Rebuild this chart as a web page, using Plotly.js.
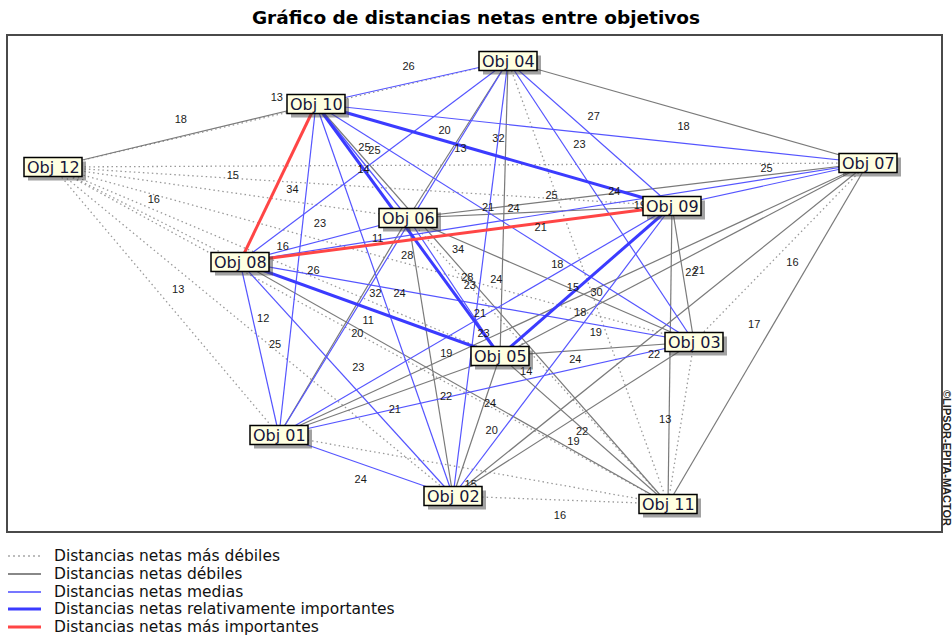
<!DOCTYPE html>
<html><head><meta charset="utf-8">
<script src="https://cdn.plot.ly/plotly-3.0.1.min.js"></script>
<style>html,body{margin:0;padding:0;background:#fff;}#chart{width:952px;height:642px;}</style>
</head><body><div id="chart"></div>
<script>
// Node layout (map coordinates)
const nodeNames = ['Obj 01','Obj 02','Obj 03','Obj 04','Obj 05','Obj 06','Obj 07','Obj 08','Obj 09','Obj 10','Obj 11','Obj 12'];
const nodeX = [279, 453, 694, 508, 500, 408, 868, 240, 672, 316, 668, 53];
const nodeY = [435, 496, 342, 61, 356, 218, 163, 262, 206, 104, 504, 167];

// Edges (objective numbers) and net distance values
const edgeFrom = [12,12,12,12,12,12,12,12,12,12,12, 11,11,11,11,11,11,11,11,11,11, 10,10,10,10,10,10,10,10,10, 9,9,9,9,9,9,9,9, 8,8,8,8,8,8,8, 7,7,7,7,7,7, 6,6,6,6,6, 5,5,5,5, 4,4,4, 3,3, 2];
const edgeTo   = [1,2,3,4,5,6,7,8,9,10,11, 1,2,3,4,5,6,7,8,9,10, 1,2,3,4,5,6,7,8,9, 1,2,3,4,5,6,7,8, 1,2,3,4,5,6,7, 1,2,3,4,5,6, 1,2,3,4,5, 1,2,3,4, 1,2,3, 1,2, 1];
const edgeValue= [13,12,11,13,16,15,13,16,14,18,11, 15,16,13,15,19,14,17,22,22,21, 26,24,24,26,31,25,27,34,32, 23,24,21,23,30,21,25,34, 25,23,23,25,32,23,25, 18,20,16,18,22,19, 20,19,18,20,28, 21,20,19,21, 28,24,24, 24,22, 24];

// Intensity classes
const classNames = ['Distancias netas más débiles','Distancias netas débiles','Distancias netas medias','Distancias netas relativamente importantes','Distancias netas más importantes'];
const classMax = [16, 22, 29, 33, 99];

const styles = [
  {color:'#9a9a9a', width:1.3, dash:'1.5px,3px'},
  {color:'#7a7a7a', width:1.2, dash:'solid'},
  {color:'#5555ff', width:1.2, dash:'solid'},
  {color:'#3b3bff', width:3, dash:'solid'},
  {color:'#ff4545', width:3, dash:'solid'}
];
const legendStyles = [
  {color:'#a8a8a8', width:1.3, dash:'2px,3px'},
  {color:'#606060', width:1.5, dash:'solid'},
  {color:'#4a4aff', width:1.5, dash:'solid'},
  {color:'#3b3bff', width:3, dash:'solid'},
  {color:'#ff4545', width:3, dash:'solid'}
];

function classOf(v){ for(let c=0;c<classMax.length;c++){ if(v<=classMax[c]) return c; } return classMax.length-1; }

const traces = [];
for(let c=0;c<classNames.length;c++){
  const xs=[], ys=[];
  edgeValue.forEach((v,k)=>{
    if(classOf(v)!==c) return;
    const a=edgeFrom[k]-1, b=edgeTo[k]-1;
    xs.push(nodeX[a], nodeX[b], null);
    ys.push(nodeY[a], nodeY[b], null);
  });
  traces.push({type:'scatter', mode:'lines', x:xs, y:ys, name:classNames[c],
    line:{color:styles[c].color, width:styles[c].width, dash:styles[c].dash},
    hoverinfo:'skip', showlegend:false});
}

const bw=29, bh=9.5;
function underBox(x,y){
  for(let i=0;i<nodeX.length;i++){
    if(Math.abs(x-nodeX[i])<bw-3 && Math.abs(y-nodeY[i])<bh) return true;
  }
  return false;
}

// value labels: midpoint shifted perpendicular to the link (labels hidden by a box are not drawn)
const lx=[], ly=[], lt=[];
edgeValue.forEach((v,k)=>{
  const a=edgeFrom[k]-1, b=edgeTo[k]-1;
  const dx=nodeX[b]-nodeX[a], dy=nodeY[b]-nodeY[a];
  const len=Math.sqrt(dx*dx+dy*dy);
  const x=(nodeX[a]+nodeX[b])/2 + 16*dy/len;
  const y=(nodeY[a]+nodeY[b])/2 - 16*dx/len;
  if(underBox(x,y)) return;
  lx.push(x); ly.push(y); lt.push(String(v));
});
traces.push({type:'scatter', mode:'text', x:lx, y:ly, text:lt, textposition:'middle center',
  textfont:{family:'Liberation Sans, Arial, sans-serif', size:11, color:'#1a1a1a'},
  hoverinfo:'skip', showlegend:false});

const shapes=[], annotations=[];
nodeNames.forEach((n,i)=>{
  shapes.push({type:'rect', xref:'x', yref:'y', layer:'above',
    x0:nodeX[i]-bw+4, x1:nodeX[i]+bw+4, y0:nodeY[i]-bh+4, y1:nodeY[i]+bh+4,
    fillcolor:'rgba(70,70,70,0.5)', line:{width:0}});
  shapes.push({type:'rect', xref:'x', yref:'y', layer:'above',
    x0:nodeX[i]-bw, x1:nodeX[i]+bw, y0:nodeY[i]-bh, y1:nodeY[i]+bh,
    fillcolor:'#FFFFE1', line:{color:'#000000', width:1.5}});
  annotations.push({xref:'x', yref:'y', x:nodeX[i], y:nodeY[i], text:n, showarrow:false,
    xanchor:'center', yanchor:'middle',
    font:{family:'DejaVu Sans, sans-serif', size:16, color:'#15153a'}});
});

// manual legend below the frame
const px = v => (v-8)/933;
const py = v => (531-v)/495;
const rowY = [556, 574, 592, 609, 627];
classNames.forEach((n,c)=>{
  shapes.push({type:'line', xref:'paper', yref:'paper', x0:px(8), x1:px(41), y0:py(rowY[c]), y1:py(rowY[c]),
    line:{color:legendStyles[c].color, width:legendStyles[c].width, dash:legendStyles[c].dash}});
  annotations.push({xref:'paper', yref:'paper', x:px(52), y:py(rowY[c]), text:n, showarrow:false,
    xanchor:'left', yanchor:'middle',
    font:{family:'DejaVu Sans, sans-serif', size:15.5, color:'#111111'}});
});

annotations.push({xref:'paper', yref:'paper', x:px(947), y:py(458), text:'©LIPSOR-EPITA-MACTOR',
  textangle:90, showarrow:false, xanchor:'center', yanchor:'middle',
  font:{family:'Liberation Sans, Arial, sans-serif', size:11, weight:'bold', color:'#222222'}});

const layout = {
  width:952, height:642,
  margin:{l:8, r:11, t:36, b:111, pad:0},
  paper_bgcolor:'#ffffff', plot_bgcolor:'#ffffff',
  title:{text:'Gráfico de distancias netas entre objetivos', x:0.5, xref:'container', xanchor:'center',
    y:1-18/642, yref:'container', yanchor:'middle',
    font:{family:'DejaVu Sans, sans-serif', size:18.5, weight:'bold', color:'#000000'}},
  xaxis:{range:[8,941], showgrid:false, zeroline:false, showticklabels:false, ticks:'',
    showline:true, mirror:true, linecolor:'#4a4a4a', linewidth:2, fixedrange:true},
  yaxis:{range:[531,36], showgrid:false, zeroline:false, showticklabels:false, ticks:'',
    showline:true, mirror:true, linecolor:'#4a4a4a', linewidth:2, fixedrange:true},
  showlegend:false,
  shapes:shapes, annotations:annotations
};
Plotly.newPlot('chart', traces, layout, {displayModeBar:false, staticPlot:true});
</script>
</body></html>
